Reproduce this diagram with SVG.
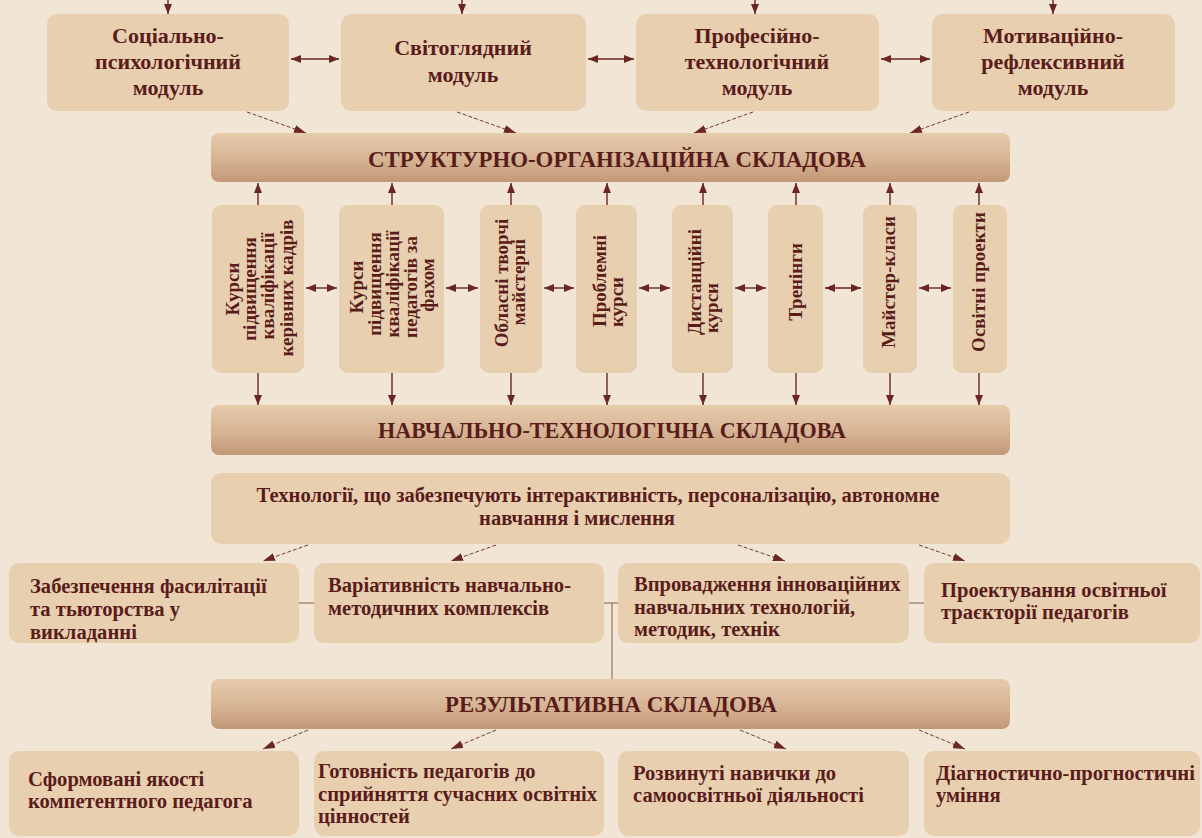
<svg xmlns="http://www.w3.org/2000/svg" width="1202" height="838" viewBox="0 0 1202 838">
<defs>
<linearGradient id="band" x1="0" y1="0" x2="0" y2="1">
<stop offset="0" stop-color="#e6ccac"/>
<stop offset="0.55" stop-color="#d5b393"/>
<stop offset="1" stop-color="#c29877"/>
</linearGradient>
<marker id="ah" viewBox="0 0 10 8" refX="10" refY="4" markerWidth="10" markerHeight="8" markerUnits="userSpaceOnUse" orient="auto-start-reverse">
<path d="M0,0 L10,4 L0,8 z" fill="#6a2620"/>
</marker>
<marker id="ahs" viewBox="0 0 12 8" refX="12" refY="4" markerWidth="12" markerHeight="8" markerUnits="userSpaceOnUse" orient="auto">
<path d="M0,0 L12,4 L0,8 z" fill="#6a2620"/>
</marker>
</defs>
<style>
.box{fill:#e8cfb0;}
.band{fill:url(#band);}
text{font-family:"Liberation Serif","DejaVu Serif",serif;font-weight:bold;fill:#5a1c1a;}
.m{font-size:22px;text-anchor:middle;}
.b{font-size:22.6px;text-anchor:middle;}
.v{font-size:19px;text-anchor:middle;}
.t{font-size:20.6px;text-anchor:middle;}
.p{font-size:20.6px;}
.arr{stroke:#6a2620;stroke-width:1.4;fill:none;marker-end:url(#ah);}
.dbl{stroke:#6a2620;stroke-width:1.4;fill:none;marker-start:url(#ah);marker-end:url(#ah);}
.dash{stroke:#7a3a30;stroke-width:1;stroke-dasharray:4 2;fill:none;marker-end:url(#ahs);}
.ln{stroke:#9a6e60;stroke-width:1.2;fill:none;}
</style>
<rect width="1202" height="838" fill="#f1e6d5"/>

<g id="connectors">
<line class="arr" x1="168" y1="0" x2="168" y2="14"/>
<line class="arr" x1="462" y1="0" x2="462" y2="14"/>
<line class="arr" x1="755" y1="0" x2="755" y2="14"/>
<line class="arr" x1="1053" y1="0" x2="1053" y2="14"/>
<line class="dbl" x1="291" y1="59" x2="339" y2="59"/>
<line class="dbl" x1="588" y1="59" x2="634" y2="59"/>
<line class="dbl" x1="881" y1="59" x2="930" y2="59"/>
<line class="dash" x1="247" y1="112" x2="306" y2="133"/>
<line class="dash" x1="457" y1="112" x2="516" y2="133"/>
<line class="dash" x1="753" y1="112" x2="694" y2="133"/>
<line class="dash" x1="969" y1="112" x2="910" y2="133"/>
<line class="arr" x1="258" y1="205" x2="258" y2="183"/>
<line class="arr" x1="392" y1="205" x2="392" y2="183"/>
<line class="arr" x1="511" y1="205" x2="511" y2="183"/>
<line class="arr" x1="607" y1="205" x2="607" y2="183"/>
<line class="arr" x1="703" y1="205" x2="703" y2="183"/>
<line class="arr" x1="796" y1="205" x2="796" y2="183"/>
<line class="arr" x1="890" y1="205" x2="890" y2="183"/>
<line class="arr" x1="979" y1="205" x2="979" y2="183"/>
<line class="arr" x1="258" y1="373" x2="258" y2="405"/>
<line class="arr" x1="392" y1="373" x2="392" y2="405"/>
<line class="arr" x1="511" y1="373" x2="511" y2="405"/>
<line class="arr" x1="607" y1="373" x2="607" y2="405"/>
<line class="arr" x1="703" y1="373" x2="703" y2="405"/>
<line class="arr" x1="796" y1="373" x2="796" y2="405"/>
<line class="arr" x1="890" y1="373" x2="890" y2="405"/>
<line class="arr" x1="979" y1="373" x2="979" y2="405"/>
<line class="dbl" x1="306" y1="288" x2="337" y2="288"/>
<line class="dbl" x1="446" y1="288" x2="478" y2="288"/>
<line class="dbl" x1="544" y1="288" x2="574" y2="288"/>
<line class="dbl" x1="639" y1="288" x2="670" y2="288"/>
<line class="dbl" x1="735" y1="288" x2="766" y2="288"/>
<line class="dbl" x1="825" y1="288" x2="861" y2="288"/>
<line class="dbl" x1="919" y1="288" x2="951" y2="288"/>
<line class="dash" x1="308" y1="545" x2="263" y2="561"/>
<line class="dash" x1="496" y1="545" x2="451" y2="561"/>
<line class="dash" x1="738" y1="545" x2="785" y2="561"/>
<line class="dash" x1="919" y1="545" x2="965" y2="561"/>
<line class="ln" x1="299" y1="603" x2="314" y2="603"/>
<line class="ln" x1="604" y1="603" x2="618" y2="603"/>
<line class="ln" x1="612" y1="603" x2="612" y2="679"/>
<line class="ln" x1="909" y1="603" x2="924" y2="603"/>
<line class="dash" x1="308" y1="730" x2="263" y2="749"/>
<line class="dash" x1="496" y1="730" x2="451" y2="749"/>
<line class="dash" x1="740" y1="730" x2="786" y2="749"/>
<line class="dash" x1="919" y1="730" x2="965" y2="749"/>
</g>

<g id="mod1"><rect class="box" x="47" y="14" width="242" height="97" rx="10"/>
<text class="m" x="168" y="43">Соціально-</text><text class="m" x="168" y="69">психологічний</text><text class="m" x="168" y="95">модуль</text></g>
<g id="mod2"><rect class="box" x="341" y="14" width="245" height="97" rx="10"/>
<text class="m" x="463" y="55">Світоглядний</text><text class="m" x="463" y="82">модуль</text></g>
<g id="mod3"><rect class="box" x="636" y="14" width="243" height="97" rx="10"/>
<text class="m" x="757" y="43">Професійно-</text><text class="m" x="757" y="69">технологічний</text><text class="m" x="757" y="95">модуль</text></g>
<g id="mod4"><rect class="box" x="932" y="14" width="243" height="97" rx="10"/>
<text class="m" x="1053" y="43">Мотиваційно-</text><text class="m" x="1053" y="69">рефлексивний</text><text class="m" x="1053" y="95">модуль</text></g>

<g id="band1"><rect class="band" x="211" y="133" width="799" height="49" rx="8"/>
<text class="b" x="617" y="167" textLength="498" lengthAdjust="spacingAndGlyphs">СТРУКТУРНО-ОРГАНІЗАЦІЙНА СКЛАДОВА</text></g>

<g id="vA"><rect class="box" x="212" y="205" width="92" height="168" rx="9"/>
<text class="v" transform="translate(239,289) rotate(-90)">Курси</text>
<text class="v" transform="translate(256,289) rotate(-90)">підвищення</text>
<text class="v" transform="translate(274,286) rotate(-90)">кваліфікації</text>
<text class="v" transform="translate(293,288) rotate(-90)">керівних кадрів</text></g>
<g id="vB"><rect class="box" x="339" y="205" width="105" height="168" rx="9"/>
<text class="v" transform="translate(363,287) rotate(-90)">Курси</text>
<text class="v" transform="translate(381,284) rotate(-90)">підвищення</text>
<text class="v" transform="translate(399,284) rotate(-90)">кваліфікації</text>
<text class="v" transform="translate(417,287) rotate(-90)">педагогів за</text>
<text class="v" transform="translate(434,285) rotate(-90)">фахом</text></g>
<g id="vC"><rect class="box" x="480" y="205" width="62" height="168" rx="9"/>
<text class="v" transform="translate(508,283) rotate(-90)">Обласні творчі</text>
<text class="v" transform="translate(525,282) rotate(-90)">майстерні</text></g>
<g id="vD"><rect class="box" x="576" y="205" width="61" height="168" rx="9"/>
<text class="v" transform="translate(606,281) rotate(-90)">Проблемні</text>
<text class="v" transform="translate(623,302) rotate(-90)">курси</text></g>
<g id="vE"><rect class="box" x="672" y="205" width="61" height="168" rx="9"/>
<text class="v" transform="translate(701,282) rotate(-90)">Дистанційні</text>
<text class="v" transform="translate(718,308) rotate(-90)">курси</text></g>
<g id="vF"><rect class="box" x="768" y="205" width="55" height="168" rx="9"/>
<text class="v" transform="translate(802,282) rotate(-90)">Тренінги</text></g>
<g id="vG"><rect class="box" x="863" y="205" width="54" height="168" rx="9"/>
<text class="v" transform="translate(895,282) rotate(-90)">Майстер-класи</text></g>
<g id="vH"><rect class="box" x="953" y="205" width="54" height="168" rx="9"/>
<text class="v" transform="translate(985,282) rotate(-90)">Освітні проекти</text></g>

<g id="band2"><rect class="band" x="211" y="405" width="799" height="50" rx="8"/>
<text class="b" x="612" y="438" textLength="468" lengthAdjust="spacingAndGlyphs">НАВЧАЛЬНО-ТЕХНОЛОГІЧНА СКЛАДОВА</text></g>

<g id="tech"><rect class="box" x="211" y="473" width="799" height="71" rx="10"/>
<text class="t" x="598" y="502">Технології, що забезпечують інтерактивність, персоналізацію, автономне</text>
<text class="t" x="577" y="525">навчання і мислення</text></g>

<g id="p1"><rect class="box" x="9" y="563" width="290" height="80" rx="10"/>
<text class="p" x="30" y="593">Забезпечення фасилітації</text><text class="p" x="30" y="616">та тьюторства у</text><text class="p" x="30" y="639">викладанні</text></g>
<g id="p2"><rect class="box" x="314" y="563" width="290" height="80" rx="10"/>
<text class="p" x="328" y="592">Варіативність навчально-</text><text class="p" x="328" y="615">методичних комплексів</text></g>
<g id="p3"><rect class="box" x="618" y="563" width="291" height="80" rx="10"/>
<text class="p" x="634" y="591">Впровадження інноваційних</text><text class="p" x="634" y="614">навчальних технологій,</text><text class="p" x="634" y="636">методик, технік</text></g>
<g id="p4"><rect class="box" x="924" y="563" width="276" height="80" rx="10"/>
<text class="p" x="941" y="597">Проектування освітньої</text><text class="p" x="941" y="619">траєкторії педагогів</text></g>

<g id="band3"><rect class="band" x="211" y="679" width="799" height="50" rx="8"/>
<text class="b" x="611" y="712" textLength="332" lengthAdjust="spacingAndGlyphs">РЕЗУЛЬТАТИВНА СКЛАДОВА</text></g>

<g id="r1"><rect class="box" x="9" y="751" width="290" height="85" rx="10"/>
<text class="p" x="28" y="786">Сформовані якості</text><text class="p" x="28" y="808">компетентного педагога</text></g>
<g id="r2"><rect class="box" x="314" y="751" width="290" height="85" rx="10"/>
<text class="p" x="318" y="778">Готовність педагогів до</text><text class="p" x="318" y="801">сприйняття сучасних освітніх</text><text class="p" x="318" y="823">цінностей</text></g>
<g id="r3"><rect class="box" x="618" y="751" width="291" height="85" rx="10"/>
<text class="p" x="633" y="780">Розвинуті навички до</text><text class="p" x="633" y="802">самоосвітньої діяльності</text></g>
<g id="r4"><rect class="box" x="924" y="751" width="276" height="85" rx="10"/>
<text class="p" x="936" y="780">Діагностично-прогностичні</text><text class="p" x="936" y="802">уміння</text></g>
</svg>
